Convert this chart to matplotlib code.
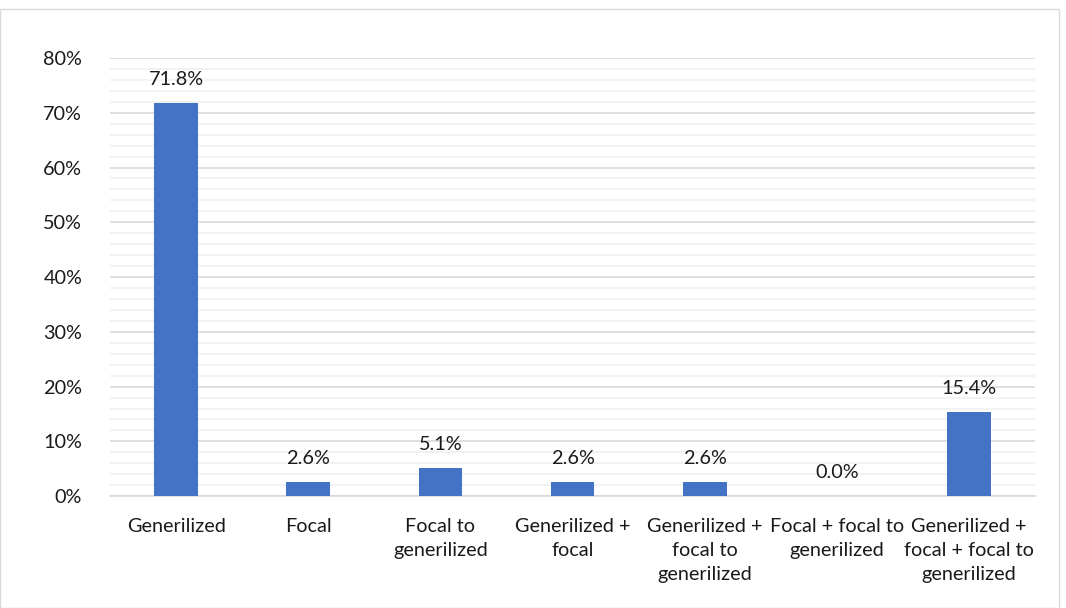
import matplotlib
matplotlib.use("Agg")
import matplotlib.pyplot as plt
from matplotlib.patches import Rectangle
import numpy as np

categories = ["Generilized", "Focal", "Focal to\ngenerilized", "Generilized +\nfocal",
              "Generilized +\nfocal to\ngenerilized", "Focal + focal to\ngenerilized",
              "Generilized +\nfocal + focal to\ngenerilized"]
values = [71.8, 2.6, 5.1, 2.6, 2.6, 0.0, 15.4]
yticks = [0, 10, 20, 30, 40, 50, 60, 70, 80]

plt.rcParams["font.family"] = ["Lato", "DejaVu Sans"]
FS = 14.3
TXT = "#1a1a1a"

fig = plt.figure(figsize=(10.66, 6.08), dpi=100)
ax = fig.add_axes([0.1032, 0.184, 0.8678, 0.7206])

x = np.arange(len(categories))
ax.bar(x, values, width=0.33, color="#4472C4", zorder=3)
for xi, v in zip(x, values):
    ax.text(xi, v + 2.7, f"{v:.1f}%", ha="center", va="bottom", fontsize=FS, color=TXT)

ax.set_xlim(-0.5, len(categories) - 0.5)
ax.set_ylim(0, 80)
ax.set_yticks(yticks)
ax.set_yticklabels([f"{t}%" for t in yticks], fontsize=FS, color=TXT)
ax.set_yticks(np.arange(0, 81, 2), minor=True)
ax.tick_params(axis="y", which="both", length=0, pad=20)
ax.set_xticks(x)
ax.set_xticklabels(categories, fontsize=FS, color=TXT, linespacing=1.5, va="top")
ax.tick_params(axis="x", length=0, pad=16)

ax.grid(axis="y", which="minor", color="#f0f0f0", linewidth=1.2, zorder=0)
ax.grid(axis="y", which="major", color="#d9d9d9", linewidth=1.2, zorder=1)
for s in ["top", "right", "left"]:
    ax.spines[s].set_visible(False)
ax.spines["bottom"].set_color("#d9d9d9")
ax.spines["bottom"].set_linewidth(1.2)

fig.patches.append(Rectangle((0.0, 0.0), 0.993, 0.985, transform=fig.transFigure,
                             fill=False, edgecolor="#d9d9d9", linewidth=1))

fig.savefig("out.png", dpi=100)
